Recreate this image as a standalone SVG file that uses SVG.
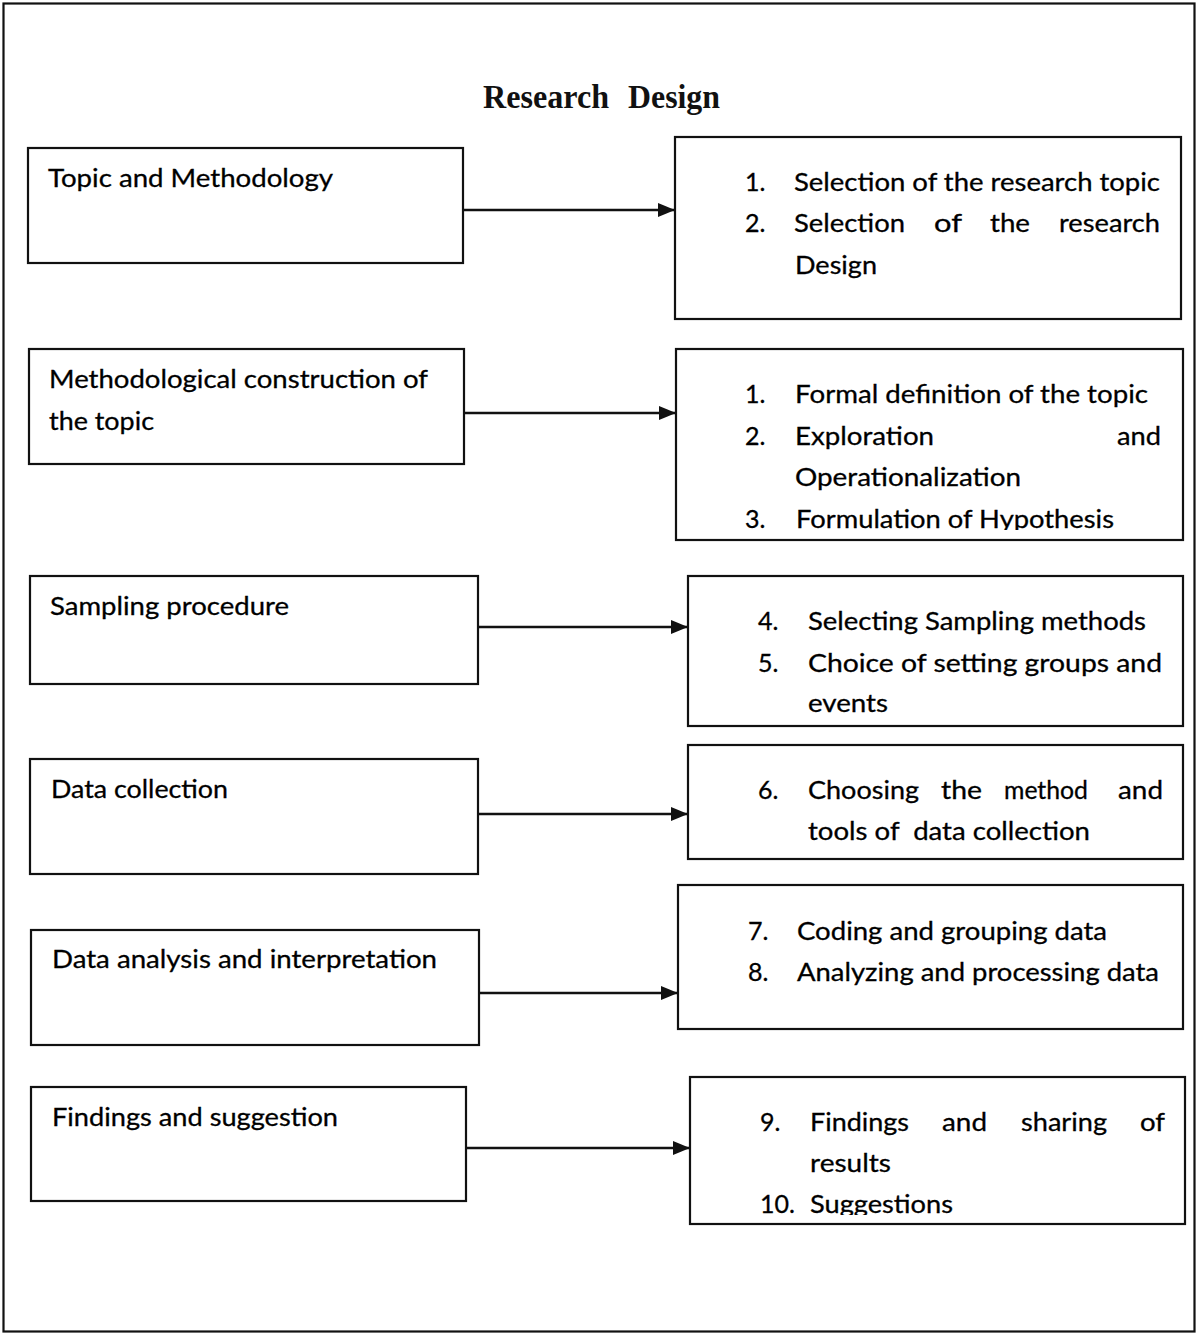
<svg xmlns="http://www.w3.org/2000/svg" width="1197" height="1334" viewBox="0 0 1197 1334">
<style>
.bx{fill:#fff;stroke:#111;stroke-width:2.2}
.t{font-family:Lato,"Open Sans","Liberation Sans",sans-serif;font-size:25px;fill:#000;stroke:#000;stroke-width:0.3}
.ttl{font-family:"Liberation Serif","Times New Roman",serif;font-weight:bold;font-size:33px;fill:#111;white-space:pre}
.pre{white-space:pre}
.cn{stroke:#111;stroke-width:2.4;fill:none}
</style>
<defs>
<marker id="ah" markerUnits="userSpaceOnUse" markerWidth="18" markerHeight="14" refX="17" refY="7" orient="auto">
<path d="M0,0 L17,7 L0,14 Z" fill="#111"/>
</marker>
<clipPath id="c2"><rect x="676" y="349" width="507" height="181"/></clipPath>
<clipPath id="c6"><rect x="690" y="1077" width="495" height="138"/></clipPath>
</defs>
<rect x="0" y="0" width="1197" height="1334" fill="#fff"/>
<rect id="frame" x="3.5" y="3.5" width="1191" height="1328" fill="none" stroke="#111" stroke-width="2.2"/>
<text class="ttl" x="483" y="108" textLength="126" lengthAdjust="spacingAndGlyphs">Research</text>
<text class="ttl" x="628" y="108" textLength="92" lengthAdjust="spacingAndGlyphs">Design</text>

<g id="connectors">
<line class="cn" x1="463" y1="210" x2="675" y2="210" marker-end="url(#ah)"/>
<line class="cn" x1="464" y1="413" x2="676" y2="413" marker-end="url(#ah)"/>
<line class="cn" x1="478" y1="627" x2="688" y2="627" marker-end="url(#ah)"/>
<line class="cn" x1="478" y1="814" x2="688" y2="814" marker-end="url(#ah)"/>
<line class="cn" x1="479" y1="993" x2="678" y2="993" marker-end="url(#ah)"/>
<line class="cn" x1="466" y1="1148" x2="690" y2="1148" marker-end="url(#ah)"/>
</g>

<g id="l1"><rect class="bx" x="28" y="148" width="435" height="115"/>
<text class="t" x="48" y="187" textLength="285" lengthAdjust="spacingAndGlyphs">Topic and Methodology</text></g>
<g id="l2"><rect class="bx" x="29" y="349" width="435" height="115"/>
<text class="t" x="49" y="388" textLength="379" lengthAdjust="spacingAndGlyphs">Methodological construction of</text>
<text class="t" x="49" y="430" textLength="105" lengthAdjust="spacingAndGlyphs">the topic</text></g>
<g id="l3"><rect class="bx" x="30" y="576" width="448" height="108"/>
<text class="t" x="50" y="615" textLength="239" lengthAdjust="spacingAndGlyphs">Sampling procedure</text></g>
<g id="l4"><rect class="bx" x="30" y="759" width="448" height="115"/>
<text class="t" x="51" y="798" textLength="177" lengthAdjust="spacingAndGlyphs">Data collection</text></g>
<g id="l5"><rect class="bx" x="31" y="930" width="448" height="115"/>
<text class="t" x="52" y="968" textLength="385" lengthAdjust="spacingAndGlyphs">Data analysis and interpretation</text></g>
<g id="l6"><rect class="bx" x="31" y="1087" width="435" height="114"/>
<text class="t" x="52" y="1126" textLength="286" lengthAdjust="spacingAndGlyphs">Findings and suggestion</text></g>

<g id="r1"><rect class="bx" x="675" y="137" width="506" height="182"/>
<text class="t" x="745" y="191">1.</text>
<text class="t" x="794" y="191" textLength="366" lengthAdjust="spacingAndGlyphs">Selection of the research topic</text>
<text class="t" x="745" y="232">2.</text>
<text class="t" x="794" y="232" textLength="111" lengthAdjust="spacingAndGlyphs">Selection</text>
<text class="t" x="934" y="232" textLength="28" lengthAdjust="spacingAndGlyphs">of</text>
<text class="t" x="990" y="232" textLength="40" lengthAdjust="spacingAndGlyphs">the</text>
<text class="t" x="1059" y="232" textLength="101" lengthAdjust="spacingAndGlyphs">research</text>
<text class="t" x="795" y="274" textLength="82" lengthAdjust="spacingAndGlyphs">Design</text></g>

<g id="r2"><rect class="bx" x="676" y="349" width="507" height="191"/>
<g clip-path="url(#c2)">
<text class="t" x="745" y="403">1.</text>
<text class="t" x="795" y="403" textLength="353" lengthAdjust="spacingAndGlyphs">Formal definition of the topic</text>
<text class="t" x="745" y="445">2.</text>
<text class="t" x="795" y="445" textLength="139" lengthAdjust="spacingAndGlyphs">Exploration</text>
<text class="t" x="1117" y="445" textLength="44" lengthAdjust="spacingAndGlyphs">and</text>
<text class="t" x="795" y="486" textLength="226" lengthAdjust="spacingAndGlyphs">Operationalization</text>
<text class="t" x="745" y="528">3.</text>
<text class="t" x="796" y="528" textLength="318" lengthAdjust="spacingAndGlyphs">Formulation of Hypothesis</text>
</g></g>

<g id="r3"><rect class="bx" x="688" y="576" width="495" height="150"/>
<text class="t" x="758" y="630">4.</text>
<text class="t" x="808" y="630" textLength="338" lengthAdjust="spacingAndGlyphs">Selecting Sampling methods</text>
<text class="t" x="758" y="672">5.</text>
<text class="t" x="808" y="672" textLength="354" lengthAdjust="spacingAndGlyphs">Choice of setting groups and</text>
<text class="t" x="808" y="712" textLength="80" lengthAdjust="spacingAndGlyphs">events</text></g>

<g id="r4"><rect class="bx" x="688" y="745" width="495" height="114"/>
<text class="t" x="758" y="799">6.</text>
<text class="t" x="808" y="799" textLength="111" lengthAdjust="spacingAndGlyphs">Choosing</text>
<text class="t" x="941" y="799" textLength="41" lengthAdjust="spacingAndGlyphs">the</text>
<text class="t" x="1004" y="799" textLength="84" lengthAdjust="spacingAndGlyphs">method</text>
<text class="t" x="1118" y="799" textLength="45" lengthAdjust="spacingAndGlyphs">and</text>
<text class="t pre" x="808" y="840" textLength="282" lengthAdjust="spacingAndGlyphs">tools of  data collection</text></g>

<g id="r5"><rect class="bx" x="678" y="885" width="505" height="144"/>
<text class="t" x="748" y="940">7.</text>
<text class="t" x="797" y="940" textLength="310" lengthAdjust="spacingAndGlyphs">Coding and grouping data</text>
<text class="t" x="748" y="981">8.</text>
<text class="t" x="797" y="981" textLength="362" lengthAdjust="spacingAndGlyphs">Analyzing and processing data</text></g>

<g id="r6"><rect class="bx" x="690" y="1077" width="495" height="147"/>
<g clip-path="url(#c6)">
<text class="t" x="760" y="1131">9.</text>
<text class="t" x="810" y="1131" textLength="99" lengthAdjust="spacingAndGlyphs">Findings</text>
<text class="t" x="942" y="1131" textLength="45" lengthAdjust="spacingAndGlyphs">and</text>
<text class="t" x="1021" y="1131" textLength="86" lengthAdjust="spacingAndGlyphs">sharing</text>
<text class="t" x="1140" y="1131" textLength="25" lengthAdjust="spacingAndGlyphs">of</text>
<text class="t" x="810" y="1172" textLength="81" lengthAdjust="spacingAndGlyphs">results</text>
<text class="t" x="760" y="1213">10.</text>
<text class="t" x="810" y="1213" textLength="143" lengthAdjust="spacingAndGlyphs">Suggestions</text>
</g></g>
</svg>
